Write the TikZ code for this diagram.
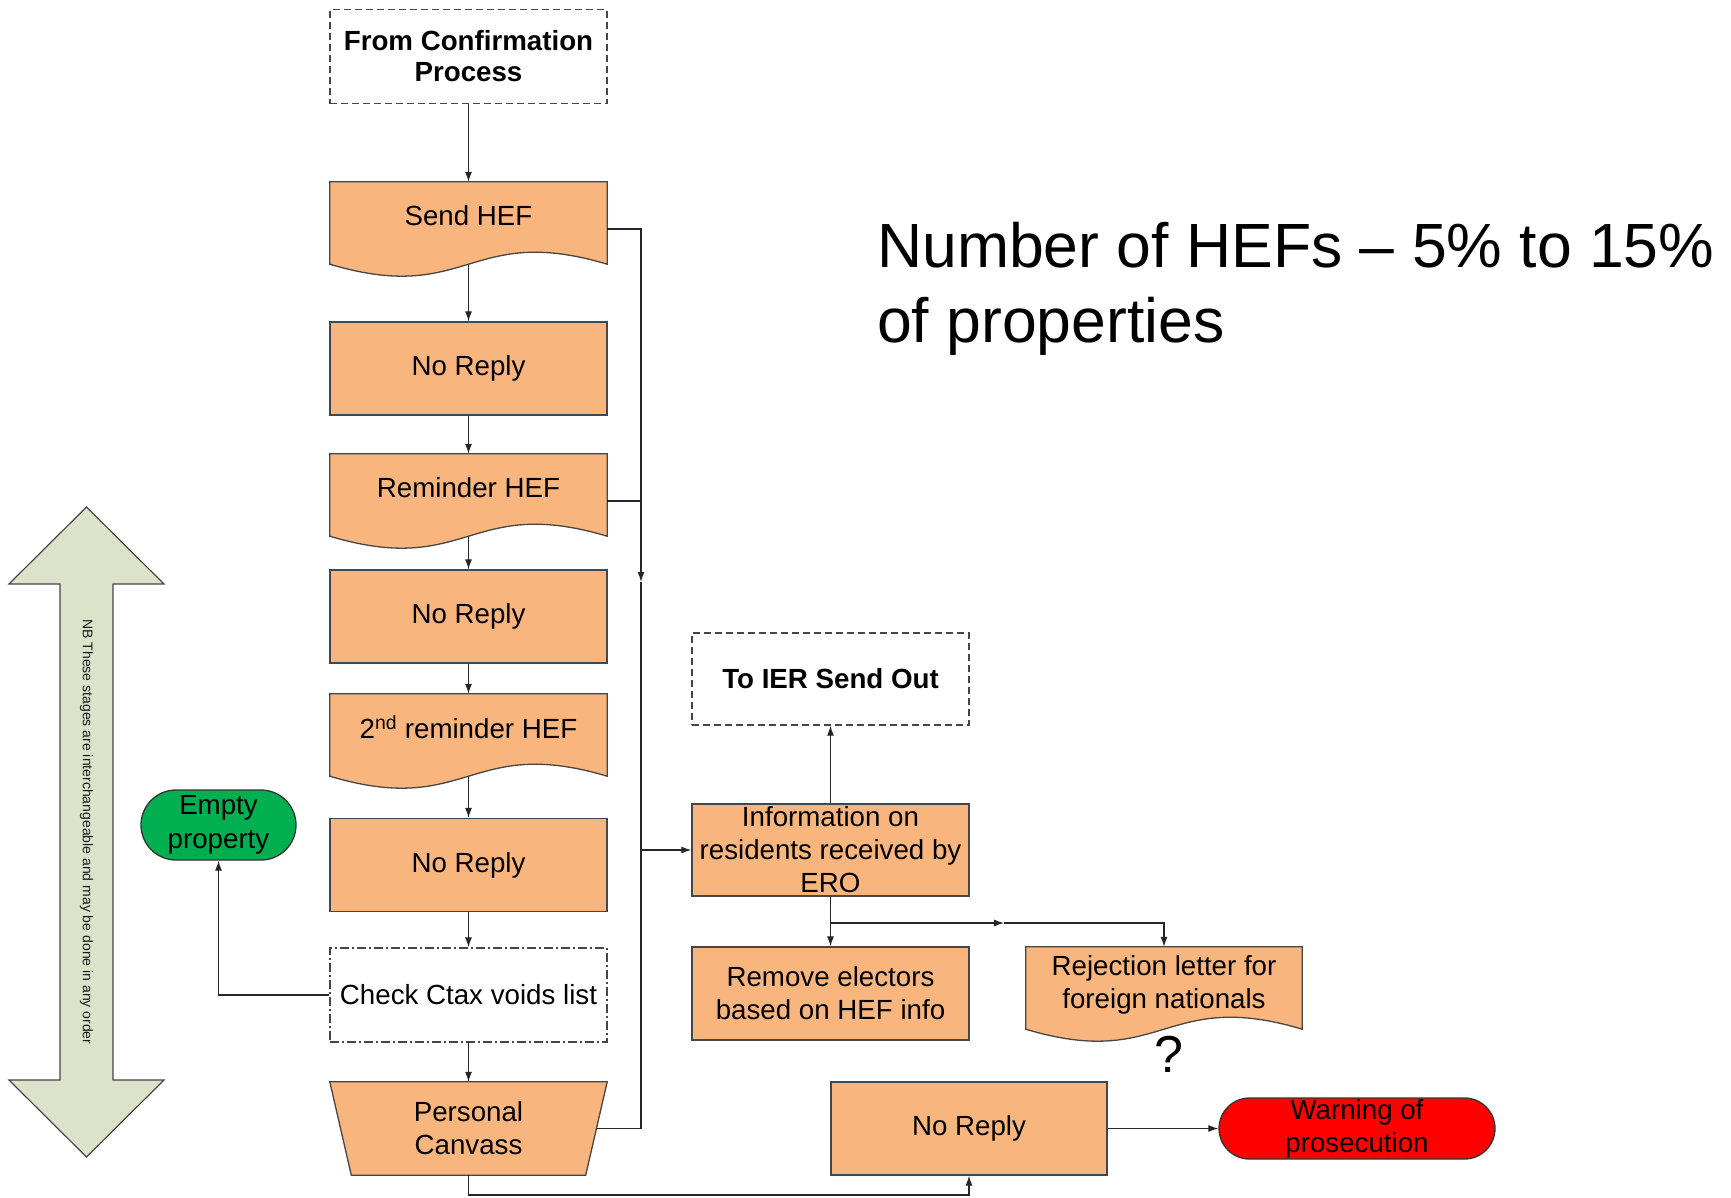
\documentclass[tikz,border=0pt]{standalone}
\usepackage{fontspec}
\setmainfont{Liberation Sans}
\usetikzlibrary{arrows.meta,backgrounds,calc,shapes.misc}
\definecolor{boxfill}{RGB}{248,181,125}
\definecolor{edgegray}{RGB}{70,70,70}
\definecolor{grn}{RGB}{0,176,80}
\definecolor{arrfill}{RGB}{221,226,203}
\tikzset{
  base/.style={minimum width=277pt, inner sep=2pt, align=center, text=black,
    font=\fontsize{27.7}{33}\selectfont},
  procbox/.style={base, draw=edgegray, line width=1.3pt, fill=boxfill, minimum height=93pt},
  docbox/.style={base, minimum height=82pt, text depth=16pt},
  termbox/.style={base, draw=edgegray, line width=1.3pt, dash pattern=on 7pt off 4pt,
    fill=white, minimum height=94pt, font=\fontsize{27.7}{31}\selectfont\bfseries},
  voidbox/.style={base, draw=edgegray, line width=1.3pt,
    dash pattern=on 9pt off 3pt on 2pt off 3pt, fill=white, minimum height=94pt},
  pill/.style={base, rounded rectangle, draw=black!80, line width=1.3pt, inner sep=0pt},
  shapeedge/.style={fill=boxfill, draw=edgegray, line width=1.3pt},
  conn/.style={draw=black!85, line width=1.2pt},
  arr/.style={conn, -{Latex[length=10pt,width=7pt]}},
}
\newcommand\docpath[1]{%
  \filldraw[shapeedge] (#1.north west) -- (#1.north east) -- (#1.south east)
    .. controls ($(#1.south)+(0,-41.5)$) and ($(#1.south)+(0,41.5)$) .. (#1.south west) -- cycle;}
\begin{document}
\begin{tikzpicture}[x=1pt,y=-1pt]
\begin{pgfonlayer}{background}
  \fill[white] (0,0) rectangle (1731,1197);
\end{pgfonlayer}
\useasboundingbox (0,0) rectangle (1731,1197);

% big double arrow note
\filldraw[fill=arrfill, draw=edgegray, line width=1.2pt]
  (86.5,507) -- (164,584) -- (113,584) -- (113,1080) -- (164,1080) -- (86.5,1157)
  -- (9,1080) -- (60,1080) -- (60,584) -- (9,584) -- cycle;
\node[rotate=-90, font=\fontsize{14}{16}\selectfont, text=black!90] (note) at (86.5,832)
  {NB These stages are interchangeable and may be done in any order};

% title
\node[anchor=north west, inner sep=0pt, align=left, font=\fontsize{62.5}{75}\selectfont] (title)
  at (877,222) {Number of HEFs \textendash{} 5\% to 15\%\\of properties};

% left column
\node[termbox] (from) at (468.5,56.5) {From Confirmation\\Process};
\node[docbox] (send) at (468.5,223) {Send HEF};
\node[procbox] (nr1) at (468.5,368.5) {No Reply};
\node[docbox] (rem) at (468.5,495) {Reminder HEF};
\node[procbox] (nr2) at (468.5,616.5) {No Reply};
\node[docbox] (rem2) at (468.5,735) {2\textsuperscript{nd} reminder HEF};
\node[procbox] (nr3) at (468.5,865) {No Reply};
\node[voidbox] (ctax) at (468.5,995) {Check Ctax voids list};
\node[base, minimum height=93pt] (pc) at (468.5,1128.5) {Personal\\Canvass};

% right part
\node[termbox, minimum height=92pt] (toier) at (830.5,679) {To IER Send Out};
\node[procbox, minimum height=92pt] (info) at (830.5,850) {Information on\\residents received by\\ERO};
\node[procbox] (remove) at (830.5,993.5) {Remove electors\\based on HEF info};
\node[docbox, minimum width=276pt, text depth=12pt] (rej) at (1164,988) {Rejection letter for\\foreign nationals};
\node[font=\fontsize{52}{60}\selectfont, inner sep=0pt] (qm) at (1169,1054) {?};
\node[procbox, minimum width=276pt] (nr4) at (969,1128.5) {No Reply};
\node[pill, fill=red, minimum width=276pt, minimum height=61pt] (warn) at (1357,1128.5) {Warning of\\prosecution};
\node[pill, fill=grn, minimum width=155pt, minimum height=70pt, font=\fontsize{27.7}{34}\selectfont] (empty) at (218.5,825) {Empty\\property};

% shapes behind document / trapezium nodes
\begin{pgfonlayer}{background}
  \docpath{send}
  \docpath{rem}
  \docpath{rem2}
  \docpath{rej}
  \filldraw[shapeedge] (pc.north west) -- (pc.north east) -- ([xshift=-21.5pt]pc.south east)
    -- ([xshift=21.5pt]pc.south west) -- cycle;
\end{pgfonlayer}

% connectors, left column
\draw[arr] (from.south) -- (send.north);
\draw[arr] (send.south) -- (nr1.north);
\draw[arr] (nr1.south) -- (rem.north);
\draw[arr] (rem.south) -- (nr2.north);
\draw[arr] (nr2.south) -- (rem2.north);
\draw[arr] (rem2.south) -- (nr3.north);
\draw[arr] (nr3.south) -- (ctax.north);
\draw[arr] (ctax.south) -- (pc.north);
\draw[arr] (ctax.west) -| (empty.south);

% bus to the right
\coordinate (ba) at (641,582);
\coordinate (bm) at (641,850);
\coordinate (bb) at (641,1128.5);
\draw[arr] ([yshift=-6pt]send.east) -| (ba);
\draw[conn] ([yshift=-6pt]rem.east) -- ([yshift=-6pt]rem.east -| ba);
\draw[conn] (ba) -- (bb) -- ([xshift=-10.75pt]pc.east);
\draw[arr] (bm) -- (info.west);

% info branches
\draw[arr] (info.north) -- (toier.south);
\draw[arr] (info.south) -- (remove.north);
\coordinate (brk) at (830.5,923);
\coordinate (bra) at (1004,923);
\draw[arr] (brk) -- (bra);
\draw[arr] (bra) -| (rej.north);

% bottom
\coordinate (bl) at (468.5,1195);
\draw[arr] (pc.south) -- (bl) -| (nr4.south);
\draw[arr] (nr4.east) -- (warn.west);
\end{tikzpicture}
\end{document}
